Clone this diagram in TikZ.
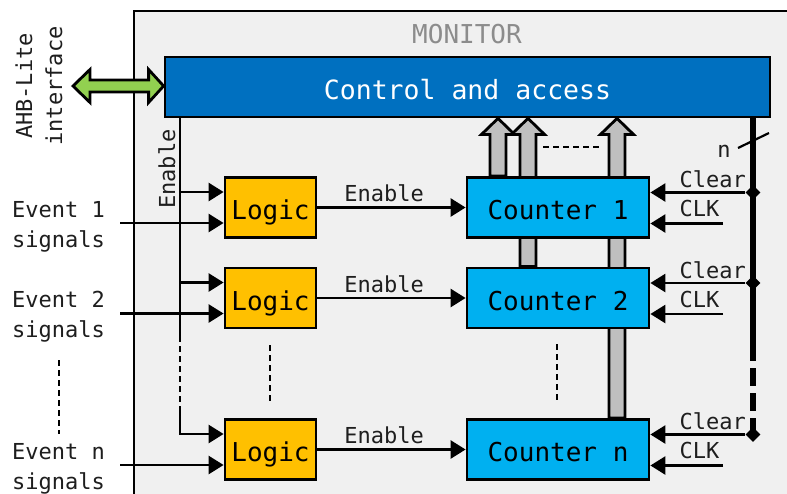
\documentclass[tikz,border=0pt]{standalone}
\usepackage{fontspec}
\newfontfamily\mono{DejaVu Sans Mono}
\usetikzlibrary{arrows.meta,calc,shapes.geometric}

\definecolor{panel}{HTML}{F0F0F0}
\definecolor{ctrlblue}{HTML}{0070C0}
\definecolor{logicfill}{HTML}{FFC000}
\definecolor{cntfill}{HTML}{00B0F0}
\definecolor{busgray}{HTML}{BFBFBF}
\definecolor{ahbgreen}{HTML}{92D050}
\definecolor{monigray}{HTML}{8C8C8C}
\definecolor{txt}{HTML}{1E1E1E}

\pgfdeclarelayer{back}
\pgfdeclarelayer{mid}
\pgfsetlayers{back,mid,main}

\newcommand\fsz[1]{\fontsize{#1}{#1}\selectfont}

% wide grey read-out arrow from a counter up to the control block
\newcommand\wideup[1]{%
  \filldraw[widearrow] let \p1=(#1), \p2=(#1 |- ctrl.south) in
    (\x1-8pt,\y1) -- (\x1-8pt,\y2-16pt) -- (\x1-16.5pt,\y2-16pt) -- (\x1,\y2)
    -- (\x1+16.5pt,\y2-16pt) -- (\x1+8pt,\y2-16pt) -- (\x1+8pt,\y1) -- cycle;}

\begin{document}
\begin{tikzpicture}[x=1pt,y=-1pt,
  >={Triangle[length=15pt,width=18pt]},
  every node/.style={font={\mono\fsz{22}}, text=txt, inner sep=0pt},
  box/.style={draw=black, line width=2.8pt, inner sep=0pt,
    text height=29pt, text depth=5pt, font={\mono\fsz{26}}, text=black},
  ctrlbox/.style={box, fill=ctrlblue, text=white, minimum width=605pt, minimum height=60pt},
  logicbox/.style={box, fill=logicfill, minimum width=91pt, minimum height=60pt},
  cntbox/.style={box, fill=cntfill, minimum width=182pt, minimum height=60pt},
  widearrow/.style={fill=busgray, draw=black, line width=2.8pt, line join=miter},
  wire/.style={line width=2.6pt},
  dashpat/.style={line width=2.6pt, dash pattern=on 6pt off 4pt},
  busline/.style={line width=5.5pt},
  busjoint/.style={diamond, fill=black, inner sep=0pt, minimum width=15pt, minimum height=15pt},
]
\useasboundingbox (0,0) rectangle (787,493);
\clip (0,0) rectangle (787,493);

\begin{pgfonlayer}{back}
  \fill[white] (0,0) rectangle (787,493);
  \filldraw[fill=panel, draw=black, line width=2.5pt] (134,11) rectangle (830,530);
\end{pgfonlayer}

\begin{scope}[wire]
% title and control block
\node[font={\mono\fsz{26}}, text=monigray, anchor=base] (mon) at (467,43) {MONITOR};
\node[ctrlbox, font={\mono\fsz{26.5}}] (ctrl) at (467.5,87) {Control and access};

% AHB-Lite interface
\node[rotate=90, anchor=base] (ahb1) at (32,86) {AHB-Lite};
\node[rotate=90, anchor=base] (ahb2) at (62,86) {interface};
\coordinate (ahb) at (73,86);
\filldraw[fill=ahbgreen, draw=black, line width=2.8pt, line join=miter]
  let \p1=(ahb), \p2=(ctrl.west) in
  (\x1,\y1) -- (\x1+17pt,\y1+16.5pt) -- (\x1+17pt,\y1+6pt) -- (\x2-15pt,\y1+6pt)
  -- (\x2-15pt,\y1+16.5pt) -- (\x2,\y1) -- (\x2-15pt,\y1-16.5pt) -- (\x2-15pt,\y1-6pt)
  -- (\x1+17pt,\y1-6pt) -- (\x1+17pt,\y1-16.5pt) -- cycle;

% logic and counter blocks
\node[logicbox] (l1) at (270.5,207.5) {Logic};
\node[logicbox] (l2) at (270.5,298) {Logic};
\node[logicbox] (ln) at (270.5,449.5) {Logic};
\node[cntbox] (c1) at (558,207.5) {Counter 1};
\node[cntbox] (c2) at (558,298) {Counter 2};
\node[cntbox] (cn) at (558,449.5) {Counter n};

% read-out paths into the control block
\coordinate (g1) at ($(c1.north)+(-60,0)$);
\coordinate (g2) at ($(c2.north)+(-30,0)$);
\coordinate (gn) at ($(cn.north)+(59,0)$);
\begin{pgfonlayer}{mid}
  \wideup{g1}
  \wideup{g2}
  \wideup{gn}
\end{pgfonlayer}
\draw[dashpat] (543,147) -- (602,147);

% enable distribution
\coordinate (en) at (180,0);
\coordinate (e1) at ($(l1.west)+(0,-15.5)$);
\coordinate (e2) at ($(l2.west)+(0,-15.5)$);
\coordinate (enn) at ($(ln.west)+(0,-15.5)$);
\coordinate (ebrk1) at (180,336);
\coordinate (ebrk2) at (180,410);
\draw[wire] (en |- ctrl.south) -- (ebrk1);
\draw[dashpat] (ebrk1) -- (ebrk2);
\draw[wire,->] (ebrk2) |- (enn);
\draw[wire,->] (en |- e1) -- (e1);
\draw[wire,->] (en |- e2) -- (e2);
\node[rotate=90, anchor=base] (enlab) at (175,169) {Enable};

% event inputs
\coordinate (evx) at (120,0);
\coordinate (s1) at ($(l1.west)+(0,15.5)$);
\coordinate (s2) at ($(l2.west)+(0,15.5)$);
\coordinate (sn) at ($(ln.west)+(0,15.5)$);
\draw[wire,->] (evx |- s1) -- (s1);
\draw[wire,->] (evx |- s2) -- (s2);
\draw[wire,->] (evx |- sn) -- (sn);
\node[anchor=base west] (ev1a) at (12,217) {Event 1};
\node[anchor=base west] (ev1b) at (12,247) {signals};
\node[anchor=base west] (ev2a) at (12,307) {Event 2};
\node[anchor=base west] (ev2b) at (12,337) {signals};
\node[anchor=base west] (evna) at (12,459) {Event n};
\node[anchor=base west] (evnb) at (12,489) {signals};
\draw[dashpat] (59,360) -- (59,434);
\draw[dashpat] (270,345) -- (270,402);
\draw[dashpat] (557,344) -- (557,403);

% logic to counter enables
\draw[wire,->] (l1.east) -- (c1.west) node[pos=0.45, anchor=base, yshift=6pt] {Enable};
\draw[wire,->] (l2.east) -- (c2.west) node[pos=0.45, anchor=base, yshift=6pt] {Enable};
\draw[wire,->] (ln.east) -- (cn.west) node[pos=0.45, anchor=base, yshift=6pt] {Enable};

% clear bus and clocks
\coordinate (bus) at (753,0);
\coordinate (clkx) at (723,0);
\coordinate (k1) at ($(c1.east)+(0,-15)$);
\coordinate (k2) at ($(c2.east)+(0,-15)$);
\coordinate (kn) at ($(cn.east)+(0,-15)$);
\coordinate (q1) at ($(c1.east)+(0,16)$);
\coordinate (q2) at ($(c2.east)+(0,16)$);
\coordinate (qn) at ($(cn.east)+(0,16)$);
\coordinate (bbrk) at (753,343);
\draw[busline] (bus |- ctrl.south) -- (bbrk);
\draw[busline, dash pattern=on 18pt off 7pt] (bbrk) -- (bus |- kn);
\draw[line width=2.2pt] (738,148) -- (769,133);
\node[anchor=base] (nlab) at (724,157) {n};
\node[busjoint] (d1) at (bus |- k1) {};
\node[busjoint] (d2) at (bus |- k2) {};
\node[busjoint] (dn) at (bus |- kn) {};
\draw[wire,->] (d1) -- (k1);
\draw[wire,->] (d2) -- (k2);
\draw[wire,->] (dn) -- (kn);
\draw[wire,->] (clkx |- q1) -- (q1);
\draw[wire,->] (clkx |- q2) -- (q2);
\draw[wire,->] (clkx |- qn) -- (qn);
\node[anchor=base west] at ($(k1)+(29,-5)$) {Clear};
\node[anchor=base west] at ($(k2)+(29,-5)$) {Clear};
\node[anchor=base west] at ($(kn)+(29,-5)$) {Clear};
\node[anchor=base west] at ($(q1)+(29,-7)$) {CLK};
\node[anchor=base west] at ($(q2)+(29,-7)$) {CLK};
\node[anchor=base west] at ($(qn)+(29,-7)$) {CLK};
\end{scope}
\end{tikzpicture}
\end{document}
